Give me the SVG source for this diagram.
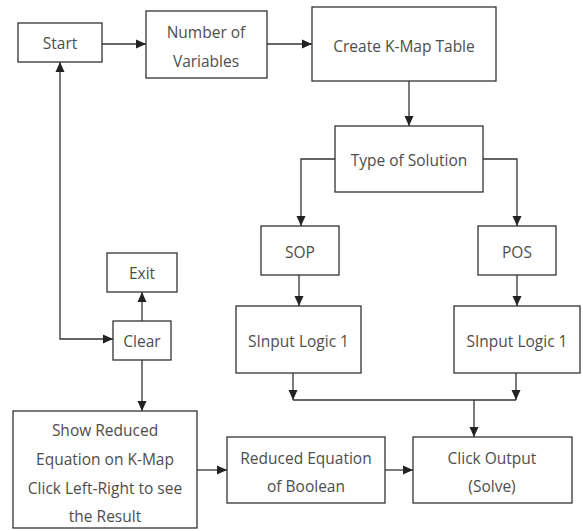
<svg xmlns="http://www.w3.org/2000/svg" width="583" height="531" viewBox="0 0 583 531">
<style>
  .box { fill: #fff; stroke: #333; stroke-width: 1.3; }
  .t { font-family: "Open Sans", "Noto Sans", sans-serif; font-size: 15.5px; fill: #4d4d4d; text-anchor: middle; dominant-baseline: central; }
  .c { fill: none; stroke: #333; stroke-width: 1.3; }
</style>
<defs>
  <marker id="ah" viewBox="0 0 10 10" refX="10" refY="5" markerWidth="10" markerHeight="10" markerUnits="userSpaceOnUse" orient="auto-start-reverse">
    <path d="M0,0.5 L10,5 L0,9.5 Z" fill="#222"/>
  </marker>
</defs>
<rect width="583" height="531" fill="#fff"/>
<g id="connectors">
  <path class="c" d="M102,44 H146" marker-end="url(#ah)"/>
  <path class="c" d="M267,44 H312" marker-end="url(#ah)"/>
  <path class="c" d="M409,81 V126" marker-end="url(#ah)"/>
  <path class="c" d="M335,159 H301 V226" marker-end="url(#ah)"/>
  <path class="c" d="M483,159 H517 V226" marker-end="url(#ah)"/>
  <path class="c" d="M299,275 V306" marker-end="url(#ah)"/>
  <path class="c" d="M517,275 V306" marker-end="url(#ah)"/>
  <path class="c" d="M293,373 V400" marker-end="url(#ah)"/>
  <path class="c" d="M516,373 V400" marker-end="url(#ah)"/>
  <path class="c" d="M293,400 H516"/>
  <path class="c" d="M474,400 V437" marker-end="url(#ah)"/>
  <path class="c" d="M385,470 H413" marker-end="url(#ah)"/>
  <path class="c" d="M197,470 H227" marker-end="url(#ah)"/>
  <path class="c" d="M142,360 V411" marker-end="url(#ah)"/>
  <path class="c" d="M142,321 V292" marker-end="url(#ah)"/>
  <path class="c" d="M60,62 V339 H113" marker-start="url(#ah)" marker-end="url(#ah)"/>
</g>
<g id="start"><rect class="box" x="18" y="23" width="84" height="39"/><text class="t" x="60" y="43">Start</text></g>
<g id="numvars"><rect class="box" x="146" y="11" width="121" height="67"/><text class="t" x="206" y="32">Number of</text><text class="t" x="206" y="61">Variables</text></g>
<g id="kmap"><rect class="box" x="312" y="7" width="184" height="74"/><text class="t" x="404" y="46">Create K-Map Table</text></g>
<g id="type"><rect class="box" x="335" y="126" width="148" height="66"/><text class="t" x="409" y="160">Type of Solution</text></g>
<g id="sop"><rect class="box" x="261" y="226" width="78" height="49"/><text class="t" x="300" y="252">SOP</text></g>
<g id="pos"><rect class="box" x="478" y="226" width="78" height="49"/><text class="t" x="517" y="252">POS</text></g>
<g id="input1"><rect class="box" x="236" y="306" width="125" height="67"/><text class="t" x="298.5" y="341">SInput Logic 1</text></g>
<g id="input2"><rect class="box" x="454" y="306" width="126" height="67"/><text class="t" x="517" y="341">SInput Logic 1</text></g>
<g id="exit"><rect class="box" x="107" y="253" width="70" height="39"/><text class="t" x="142" y="273">Exit</text></g>
<g id="clear"><rect class="box" x="113" y="321" width="58" height="39"/><text class="t" x="142" y="341">Clear</text></g>
<g id="show"><rect class="box" x="13" y="411" width="184" height="117"/><text class="t" x="105" y="430">Show Reduced</text><text class="t" x="105" y="459">Equation on K-Map</text><text class="t" x="105" y="488">Click Left-Right to see</text><text class="t" x="105" y="516">the Result</text></g>
<g id="reduced"><rect class="box" x="227" y="437" width="158" height="66"/><text class="t" x="306" y="458">Reduced Equation</text><text class="t" x="306" y="486">of Boolean</text></g>
<g id="output"><rect class="box" x="413" y="437" width="159" height="66"/><text class="t" x="492" y="458">Click Output</text><text class="t" x="492" y="486">(Solve)</text></g>
</svg>
